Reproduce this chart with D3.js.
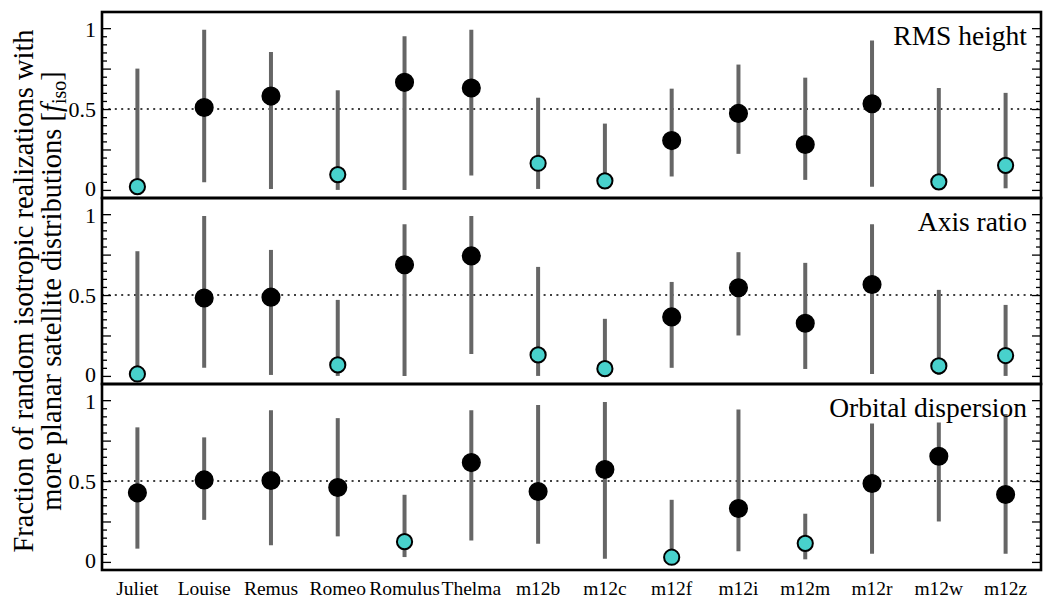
<!DOCTYPE html>
<html>
<head>
<meta charset="utf-8">
<script src="https://cdn.jsdelivr.net/npm/d3@7"></script>
<style>
  body { margin: 0; background: #fff; }
  svg text { font-family: "Liberation Serif", "DejaVu Serif", serif; fill: #000; }
</style>
</head>
<body>
<div id="chart"></div>
<script>
// Galaxy names along the x axis
var categories = ['Juliet', 'Louise', 'Remus', 'Romeo', 'Romulus', 'Thelma',
    'm12b', 'm12c', 'm12f', 'm12i', 'm12m', 'm12r', 'm12w', 'm12z'];

// RMS height: median and range of f_iso
var rmsValue = [0.02, 0.51, 0.58, 0.095, 0.665, 0.63, 0.165, 0.056, 0.305, 0.473, 0.281, 0.533, 0.05, 0.152];
var rmsLow   = [0.0, 0.048, 0.006, 0.0, 0.0, 0.089, 0.006, 0.006, 0.083, 0.223, 0.062, 0.02, 0.006, 0.01];
var rmsHigh  = [0.75, 0.99, 0.853, 0.616, 0.95, 0.99, 0.57, 0.41, 0.626, 0.775, 0.694, 0.924, 0.63, 0.6];

// Axis ratio
var axisValue = [0.012, 0.482, 0.487, 0.068, 0.687, 0.742, 0.13, 0.045, 0.365, 0.545, 0.326, 0.565, 0.062, 0.126];
var axisLow   = [0.0, 0.05, 0.006, 0.0, 0.0, 0.136, 0.0, 0.0, 0.05, 0.25, 0.043, 0.012, 0.006, 0.0];
var axisHigh  = [0.771, 0.988, 0.779, 0.47, 0.938, 0.988, 0.674, 0.353, 0.581, 0.765, 0.699, 0.938, 0.532, 0.439];

// Orbital dispersion
var orbValue = [0.427, 0.507, 0.503, 0.46, 0.125, 0.614, 0.435, 0.571, 0.029, 0.33, 0.115, 0.485, 0.653, 0.417];
var orbLow   = [0.082, 0.26, 0.103, 0.158, 0.03, 0.133, 0.113, 0.02, 0.0, 0.066, 0.016, 0.051, 0.25, 0.051];
var orbHigh  = [0.832, 0.77, 0.938, 0.889, 0.415, 0.938, 0.97, 0.988, 0.384, 0.943, 0.298, 0.856, 0.862, 0.914];

var panelTitles = ['RMS height', 'Axis ratio', 'Orbital dispersion'];
var yTickLabels = [0, 0.5, 1];

var panels = [
    { title: panelTitles[0], value: rmsValue, low: rmsLow, high: rmsHigh },
    { title: panelTitles[1], value: axisValue, low: axisLow, high: axisHigh },
    { title: panelTitles[2], value: orbValue, low: orbLow, high: orbHigh }
];

var width = 1050,
    height = 600,
    margin = { left: 102, right: 9, top: 12, bottom: 30 },
    panelHeight = (height - margin.top - margin.bottom) / 3,
    chartWidth = width - margin.left - margin.right,
    lowThreshold = 0.2,
    serif = '"Liberation Serif", "DejaVu Serif", serif';

var svg = d3.select('#chart').append('svg')
    .attr('width', width)
    .attr('height', height)
    .attr('viewBox', `0 0 ${width} ${height}`);

var xScale = d3.scaleLinear()
    .domain([-0.53, categories.length - 1 + 0.53])
    .range([0, chartWidth]);

var yScale = d3.scaleLinear()
    .domain([-0.05, 1.1])
    .range([panelHeight, 0]);

var majorTicks = d3.range(0, 1.0001, 0.25);
var minorTicks = d3.range(0, 1.0001, 0.05).filter(function(t) {
    return Math.abs(t / 0.25 - Math.round(t / 0.25)) > 1e-6;
});

panels.forEach(function(p, k) {
    var g = svg.append('g')
        .attr('transform', 'translate(' + margin.left + ',' + (margin.top + k * panelHeight) + ')');

    var rows = categories.map(function(c, i) {
        return { name: c, i: i, v: p.value[i], lo: p.low[i], hi: p.high[i] };
    });

    // reference line at 0.5
    g.append('line')
        .attr('x1', 0).attr('x2', chartWidth)
        .attr('y1', yScale(0.5)).attr('y2', yScale(0.5))
        .attr('stroke', '#000')
        .attr('stroke-width', 1.6)
        .attr('stroke-dasharray', '2,4.4');

    // range bars
    g.selectAll('.err').data(rows).enter().append('line')
        .attr('class', 'err')
        .attr('x1', function(d) { return xScale(d.i); })
        .attr('x2', function(d) { return xScale(d.i); })
        .attr('y1', function(d) { return yScale(d.lo); })
        .attr('y2', function(d) { return yScale(d.hi); })
        .attr('stroke', '#666')
        .attr('stroke-width', 4);

    // markers
    g.selectAll('.pt').data(rows).enter().append('circle')
        .attr('class', 'pt')
        .attr('cx', function(d) { return xScale(d.i); })
        .attr('cy', function(d) { return yScale(d.v); })
        .attr('r', function(d) { return d.v < lowThreshold ? 7.6 : 8.8; })
        .attr('fill', function(d) { return d.v < lowThreshold ? '#48D1CC' : '#000'; })
        .attr('stroke', '#000')
        .attr('stroke-width', function(d) { return d.v < lowThreshold ? 2 : 1.5; });

    // y axes, ticks pointing inward on both sides
    var leftMajor = d3.axisLeft(yScale).tickValues(majorTicks).tickSizeInner(-9).tickSizeOuter(0)
        .tickFormat(function(t) { return yTickLabels.indexOf(t) >= 0 ? d3.format('~g')(t) : ''; })
        .tickPadding(6);
    var leftMinor = d3.axisLeft(yScale).tickValues(minorTicks).tickSizeInner(-5).tickSizeOuter(0).tickFormat('');
    var rightMajor = d3.axisRight(yScale).tickValues(majorTicks).tickSizeInner(-9).tickSizeOuter(0).tickFormat('');
    var rightMinor = d3.axisRight(yScale).tickValues(minorTicks).tickSizeInner(-5).tickSizeOuter(0).tickFormat('');

    g.append('g').attr('class', 'axis y left').call(leftMajor);
    g.append('g').attr('class', 'axis y').call(leftMinor);
    g.append('g').attr('class', 'axis y').attr('transform', 'translate(' + chartWidth + ',0)').call(rightMajor);
    g.append('g').attr('class', 'axis y').attr('transform', 'translate(' + chartWidth + ',0)').call(rightMinor);

    g.selectAll('.axis .domain').remove();
    g.selectAll('.axis line').attr('stroke', '#000').attr('stroke-width', 1.3);
    g.selectAll('.axis text')
        .style('font-size', '22px')
        .style('font-family', serif)
        .attr('fill', '#000');
    // nudge the 0 / 1 labels apart where two panels meet
    g.selectAll('.axis.left .tick text')
        .attr('dy', function(t) { return t === 0 ? '0.25em' : (t === 1 ? '0.4em' : '0.32em'); });

    // panel title in the upper right
    g.append('text')
        .attr('x', chartWidth - 14)
        .attr('y', 33)
        .attr('text-anchor', 'end')
        .style('font-size', '27.5px')
        .style('font-family', serif)
        .text(p.title);

    // frame
    g.append('rect')
        .attr('width', chartWidth)
        .attr('height', panelHeight)
        .attr('fill', 'none')
        .attr('stroke', '#000')
        .attr('stroke-width', 2.6);

    // category labels under the last panel
    if (k === panels.length - 1) {
        g.selectAll('.cat').data(rows).enter().append('text')
            .attr('class', 'cat')
            .attr('x', function(d) { return xScale(d.i); })
            .attr('y', panelHeight + 25)
            .attr('text-anchor', 'middle')
            .style('font-size', '19.5px')
            .style('font-family', serif)
            .text(function(d) { return d.name; });
    }
});

// y axis title, two lines
var yTitle = svg.append('text')
    .attr('transform', 'translate(0,' + (margin.top + 1.5 * panelHeight) + ') rotate(-90)')
    .attr('text-anchor', 'middle')
    .style('font-size', '28.5px')
    .style('font-family', serif);

yTitle.append('tspan')
    .attr('x', 0).attr('y', 33)
    .text('Fraction of random isotropic realizations with');

var line2 = yTitle.append('tspan')
    .attr('x', 0).attr('y', 61);
line2.append('tspan').text('more planar satellite distributions [');
line2.append('tspan').style('font-style', 'italic').text('f');
line2.append('tspan').attr('dy', 5).style('font-size', '20px').text('iso');
line2.append('tspan').attr('dy', -5).text(']');
</script>
</body>
</html>
